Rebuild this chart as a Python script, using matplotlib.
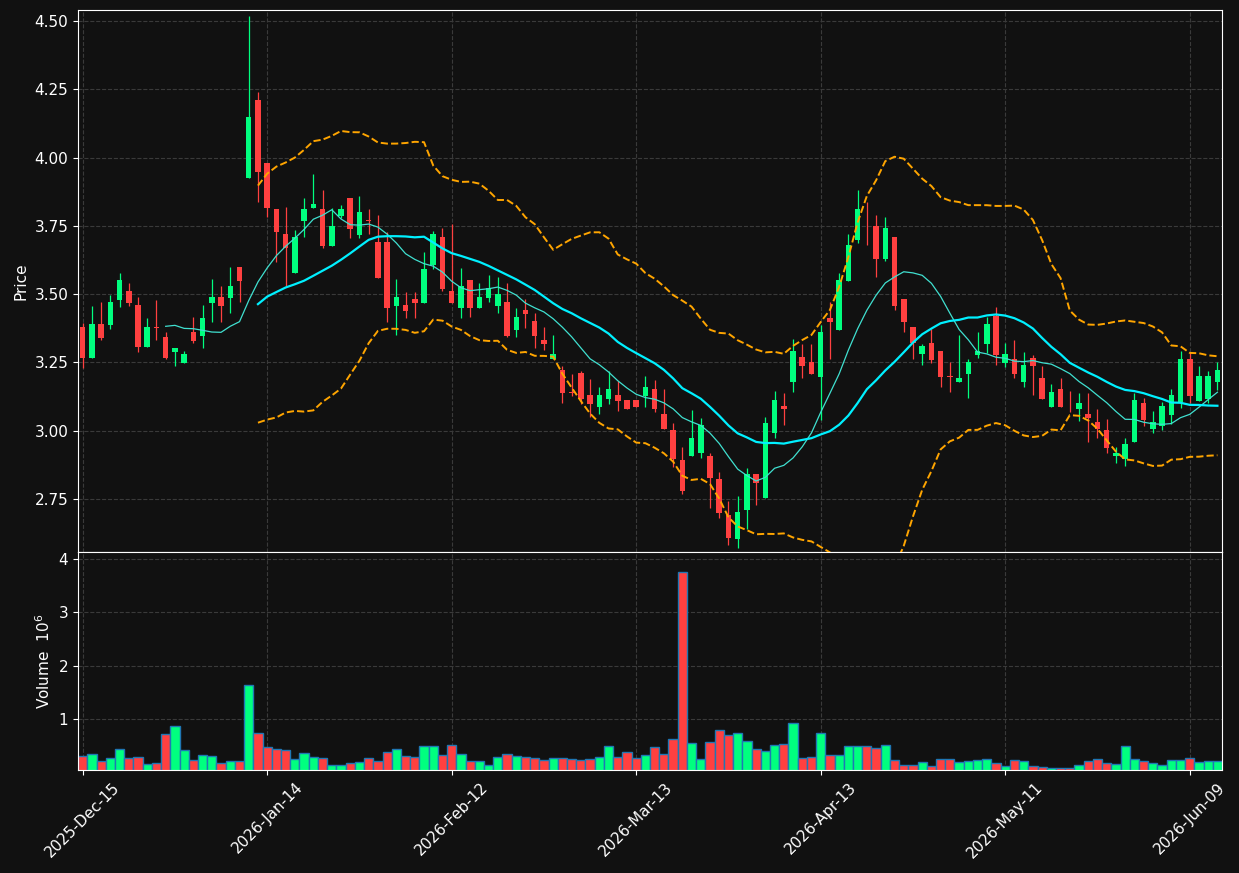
import numpy as np
import pandas as pd
import matplotlib
matplotlib.use("Agg")
import matplotlib.pyplot as plt

# trading days, US market holidays removed
holidays = ['2025-12-25', '2026-01-01', '2026-01-19', '2026-02-16', '2026-04-03', '2026-05-25']
dates = [d for d in pd.bdate_range('2025-12-15', '2026-06-12') if d.strftime('%Y-%m-%d') not in holidays]

opens = [3.380, 3.267, 3.391, 3.388, 3.480, 3.511, 3.460, 3.308, 3.379, 3.343,
         3.289, 3.249, 3.361, 3.348, 3.468, 3.489, 3.487, 3.599, 3.926, 4.211,
         3.979, 3.812, 3.720, 3.579, 3.769, 3.816, 3.812, 3.676, 3.786, 3.852,
         3.717, 3.771, 3.691, 3.691, 3.458, 3.460, 3.482, 3.468, 3.607, 3.709,
         3.511, 3.450, 3.552, 3.450, 3.487, 3.458, 3.471, 3.370, 3.442, 3.401,
         3.332, 3.261, 3.222, 3.141, 3.212, 3.131, 3.088, 3.116, 3.131, 3.111,
         3.112, 3.127, 3.152, 3.061, 3.002, 2.893, 2.908, 2.919, 2.907, 2.823,
         2.691, 2.602, 2.711, 2.840, 2.752, 2.990, 3.090, 3.179, 3.270, 3.251,
         3.198, 3.413, 3.368, 3.549, 3.698, 3.790, 3.749, 3.630, 3.709, 3.482,
         3.380, 3.279, 3.321, 3.292, 3.199, 3.179, 3.209, 3.277, 3.319, 3.421,
         3.249, 3.261, 3.179, 3.268, 3.192, 3.088, 3.152, 3.113, 3.079, 3.060,
         3.032, 3.002, 2.908, 2.896, 2.960, 3.100, 3.006, 3.017, 3.057, 3.106,
         3.262, 3.110, 3.115, 3.179]
highs = [3.393, 3.456, 3.470, 3.496, 3.577, 3.540, 3.488, 3.411, 3.479, 3.361,
         3.302, 3.292, 3.416, 3.460, 3.554, 3.530, 3.599, 3.599, 4.518, 4.240,
         3.979, 3.812, 3.818, 3.735, 3.851, 3.939, 3.880, 3.817, 3.825, 3.852,
         3.859, 3.810, 3.788, 3.729, 3.554, 3.509, 3.509, 3.653, 3.732, 3.741,
         3.757, 3.595, 3.552, 3.539, 3.569, 3.564, 3.539, 3.450, 3.483, 3.430,
         3.378, 3.350, 3.238, 3.207, 3.220, 3.191, 3.159, 3.220, 3.182, 3.111,
         3.112, 3.199, 3.184, 3.151, 3.027, 2.939, 3.076, 3.045, 2.919, 2.850,
         2.742, 2.761, 2.862, 2.840, 3.049, 3.145, 3.137, 3.334, 3.316, 3.316,
         3.386, 3.472, 3.578, 3.719, 3.881, 3.838, 3.788, 3.781, 3.709, 3.482,
         3.380, 3.317, 3.372, 3.292, 3.250, 3.350, 3.261, 3.360, 3.417, 3.452,
         3.320, 3.331, 3.289, 3.278, 3.238, 3.170, 3.192, 3.146, 3.139, 3.139,
         3.080, 3.043, 2.941, 2.975, 3.137, 3.118, 3.071, 3.106, 3.151, 3.293,
         3.289, 3.238, 3.218, 3.250]
lows = [3.228, 3.267, 3.332, 3.371, 3.452, 3.458, 3.289, 3.308, 3.332, 3.261,
        3.238, 3.247, 3.322, 3.301, 3.399, 3.399, 3.430, 3.470, 3.926, 3.838,
        3.784, 3.619, 3.531, 3.579, 3.708, 3.816, 3.670, 3.676, 3.778, 3.707,
        3.707, 3.719, 3.560, 3.399, 3.350, 3.411, 3.411, 3.468, 3.591, 3.513,
        3.469, 3.411, 3.417, 3.450, 3.470, 3.430, 3.344, 3.342, 3.375, 3.301,
        3.295, 3.261, 3.100, 3.128, 3.096, 3.049, 3.060, 3.098, 3.073, 3.080,
        3.088, 3.088, 3.070, 3.006, 2.868, 2.770, 2.908, 2.899, 2.716, 2.679,
        2.581, 2.569, 2.642, 2.728, 2.752, 2.972, 3.021, 3.140, 3.192, 3.206,
        3.039, 3.261, 3.368, 3.549, 3.688, 3.680, 3.564, 3.621, 3.442, 3.360,
        3.261, 3.240, 3.249, 3.159, 3.143, 3.179, 3.118, 3.268, 3.283, 3.239,
        3.234, 3.192, 3.159, 3.129, 3.117, 3.088, 3.088, 3.070, 3.035, 2.960,
        2.972, 2.919, 2.883, 2.871, 2.960, 3.018, 2.990, 3.002, 3.023, 3.082,
        3.100, 3.110, 3.100, 3.149]
closes = [3.267, 3.391, 3.340, 3.471, 3.552, 3.469, 3.308, 3.380, 3.377, 3.267,
          3.302, 3.280, 3.328, 3.413, 3.489, 3.458, 3.530, 3.548, 4.149, 3.948,
          3.817, 3.729, 3.670, 3.709, 3.812, 3.830, 3.676, 3.749, 3.812, 3.738,
          3.801, 3.768, 3.560, 3.450, 3.488, 3.438, 3.468, 3.592, 3.721, 3.519,
          3.469, 3.530, 3.450, 3.489, 3.521, 3.500, 3.347, 3.418, 3.428, 3.347,
          3.318, 3.281, 3.139, 3.139, 3.116, 3.099, 3.131, 3.152, 3.109, 3.080,
          3.088, 3.160, 3.079, 3.006, 2.897, 2.779, 2.974, 3.021, 2.828, 2.700,
          2.608, 2.702, 2.841, 2.810, 3.030, 3.112, 3.080, 3.292, 3.238, 3.209,
          3.361, 3.399, 3.552, 3.680, 3.810, 3.788, 3.630, 3.742, 3.458, 3.399,
          3.320, 3.310, 3.259, 3.198, 3.198, 3.193, 3.251, 3.293, 3.391, 3.277,
          3.281, 3.207, 3.240, 3.238, 3.117, 3.141, 3.088, 3.111, 3.100, 3.047,
          3.005, 2.938, 2.920, 2.951, 3.112, 3.039, 3.031, 3.090, 3.129, 3.262,
          3.127, 3.199, 3.199, 3.221]
volumes = [0.30, 0.34, 0.19, 0.26, 0.43, 0.26, 0.28, 0.14, 0.16, 0.71,
           0.85, 0.41, 0.22, 0.32, 0.30, 0.16, 0.20, 0.20, 1.63, 0.73,
           0.47, 0.43, 0.41, 0.24, 0.35, 0.28, 0.26, 0.13, 0.13, 0.16,
           0.18, 0.26, 0.20, 0.37, 0.43, 0.30, 0.28, 0.49, 0.49, 0.32,
           0.50, 0.34, 0.19, 0.19, 0.13, 0.28, 0.34, 0.30, 0.28, 0.26,
           0.22, 0.26, 0.26, 0.24, 0.22, 0.24, 0.28, 0.49, 0.28, 0.37,
           0.26, 0.32, 0.47, 0.34, 0.62, 3.76, 0.54, 0.24, 0.56, 0.79,
           0.69, 0.73, 0.58, 0.43, 0.39, 0.50, 0.52, 0.92, 0.26, 0.28,
           0.73, 0.32, 0.32, 0.49, 0.49, 0.49, 0.45, 0.50, 0.22, 0.13,
           0.13, 0.18, 0.10, 0.24, 0.24, 0.18, 0.20, 0.22, 0.24, 0.16,
           0.10, 0.22, 0.20, 0.10, 0.08, 0.06, 0.06, 0.06, 0.13, 0.20,
           0.24, 0.16, 0.14, 0.49, 0.24, 0.20, 0.16, 0.13, 0.22, 0.22,
           0.26, 0.18, 0.20, 0.20]

df = pd.DataFrame({'Open': opens, 'High': highs, 'Low': lows, 'Close': closes, 'Volume': volumes},
                  index=pd.DatetimeIndex(dates))
x = np.arange(len(df))

up_col = '#00ff7f'
down_col = '#ff4040'
bg = '#111111'
colors = [up_col if c >= o else down_col for o, c in zip(df.Open, df.Close)]

ma10 = df.Close.rolling(10).mean()
ma20 = df.Close.rolling(20).mean()
sd20 = df.Close.rolling(20).std(ddof=0)
bb_up = ma20 + 2 * sd20
bb_lo = ma20 - 2 * sd20

fig = plt.figure(figsize=(12.39, 8.73), dpi=100, facecolor=bg)
ax = fig.add_axes([0.063, 0.3677, 0.9233, 0.6208], facecolor=bg)
axv = fig.add_axes([0.063, 0.118, 0.9233, 0.2497], facecolor=bg, sharex=ax)

# candles
ax.vlines(x, df.Low, df.High, colors=colors, linewidth=0.9, zorder=2)
body_lo = np.minimum(df.Open, df.Close)
body_h = np.maximum(np.abs(df.Close - df.Open), 0.003)
ax.bar(x, body_h, bottom=body_lo, width=0.6, color=colors, linewidth=0, zorder=3)

ax.plot(x, ma10, color='#40e0d0', linewidth=0.9, zorder=4)
ax.plot(x, ma20, color='#00f0ff', linewidth=1.6, zorder=4)
ax.plot(x, bb_up, color='orange', linestyle='--', linewidth=1.4, zorder=4)
ax.plot(x, bb_lo, color='orange', linestyle='--', linewidth=1.4, zorder=4)

axv.bar(x, df.Volume, width=1.0, color=colors, edgecolor='#1f77b4', linewidth=1.0)

ax.set_xlim(-0.5, len(df) - 0.5)
ax.set_ylim(2.556, 4.54)
axv.set_ylim(0.03, 4.14)
ax.set_yticks([2.75, 3.00, 3.25, 3.50, 3.75, 4.00, 4.25, 4.50])
axv.set_yticks([1, 2, 3, 4])

ticks = list(range(0, len(df), 20))
axv.set_xticks(ticks)
axv.set_xticklabels([df.index[i].strftime('%Y-%b-%d') for i in ticks], rotation=45, ha='center')
plt.setp(ax.get_xticklabels(), visible=False)

for a in (ax, axv):
    a.grid(True, color='#3a3a3a', linestyle='--', linewidth=0.8)
    a.set_axisbelow(True)
    a.tick_params(colors='white', labelsize=11)
    for s in a.spines.values():
        s.set_color('white')

ax.set_ylabel('Price', color='white', fontsize=11)
axv.set_ylabel('Volume  $10^{6}$', color='white', fontsize=11)

fig.savefig('out.png', dpi=100, facecolor=bg)
